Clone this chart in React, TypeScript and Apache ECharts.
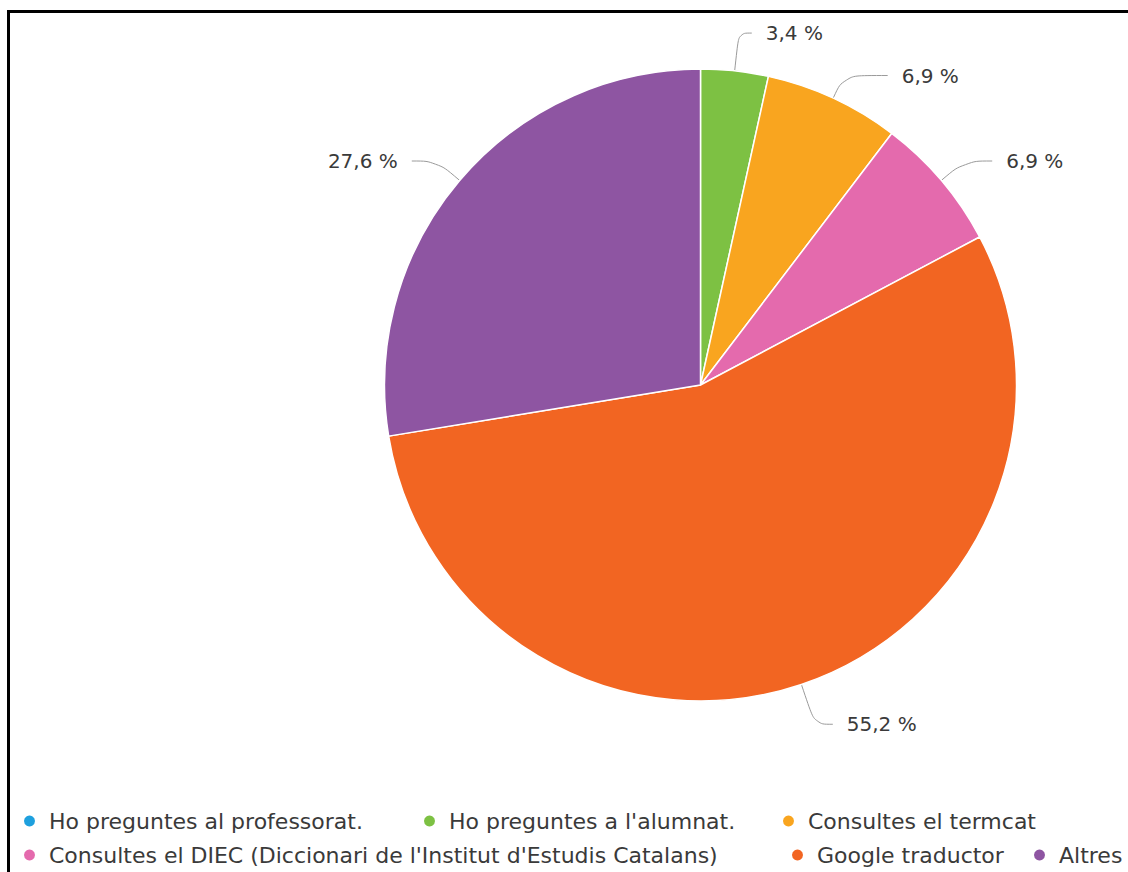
import React, { useEffect, useRef } from "react";
import * as echarts from "echarts";

const categories = [
  "Ho preguntes al professorat.",
  "Ho preguntes a l'alumnat.",
  "Consultes el termcat",
  "Consultes el DIEC (Diccionari de l'Institut d'Estudis Catalans)",
  "Google traductor",
  "Altres",
];
const values = [0, 1, 2, 2, 16, 8];
const colors = ["#1ea0de", "#7dc143", "#f9a51f", "#e46aad", "#f26522", "#8e55a2"];

// per-slice label line lengths [length, length2]
const labelLines: [number, number][] = [
  [30, 18],
  [38, 13],
  [25, 44],
  [30, 28],
  [42, 18],
  [30, 25],
];

// legend placement per item: [left, top]
const legendPos: [number, number][] = [
  [22, 810],
  [422, 810],
  [781, 810],
  [22, 844],
  [790, 844],
  [1032, 844],
];

export default function App() {
  const ref = useRef<HTMLDivElement>(null);
  useEffect(() => {
    if (!ref.current) return;
    const chart = echarts.init(ref.current, null, { renderer: "svg" });
    const total = values.reduce((a, b) => a + b, 0);
    const data = categories.map((name, i) => {
      const item: any = {
        name,
        value: values[i],
        itemStyle: { color: colors[i] },
        labelLine: { length: labelLines[i][0], length2: labelLines[i][1] },
      };
      if (values[i] === 0) {
        item.label = { show: false };
        item.labelLine = { show: false };
      }
      return item;
    });
    chart.setOption({
      animation: false,
      backgroundColor: "transparent",
      legend: categories.map((name, i) => ({
        data: [name],
        left: legendPos[i][0],
        top: legendPos[i][1],
        orient: "horizontal",
        icon: "circle",
        itemWidth: 13,
        itemHeight: 13,
        padding: 0,
        selectedMode: false,
        textStyle: {
          fontFamily: "DejaVu Sans",
          fontSize: 22,
          color: "#3a3a3a",
          padding: [0, 0, 0, 8],
        },
      })),
      series: [
        {
          type: "pie",
          center: [700.5, 385],
          radius: 316,
          startAngle: 90,
          clockwise: true,
          data,
          itemStyle: { borderColor: "#ffffff", borderWidth: 1.5 },
          label: {
            show: true,
            position: "outside",
            fontFamily: "DejaVu Sans",
            fontSize: 20,
            color: "#3a3a3a",
            padding: [0, 9],
            formatter: (p: any) => ((p.value / total) * 100).toFixed(1).replace(".", ",") + " %",
          },
          labelLine: {
            show: true,
            smooth: 0.4,
            lineStyle: { color: "#9a9a9a", width: 1 },
          },
          emphasis: { disabled: true },
        },
      ],
    });
    return () => chart.dispose();
  }, []);
  return (
    <div
      style={{
        position: "fixed",
        left: 0,
        top: 0,
        width: 1128,
        height: 872,
        overflow: "hidden",
        background: "#ffffff",
      }}
    >
      <div
        style={{
          position: "absolute",
          left: 7,
          top: 10,
          width: 1300,
          height: 1000,
          borderLeft: "3px solid #000",
          borderTop: "3px solid #000",
          boxSizing: "border-box",
        }}
      />
      <div ref={ref} style={{ position: "absolute", left: 0, top: 0, width: 1128, height: 872 }} />
    </div>
  );
}
